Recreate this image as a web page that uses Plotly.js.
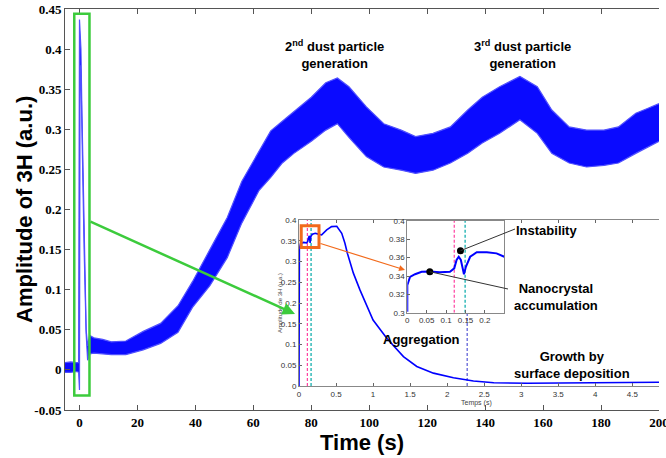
<!DOCTYPE html>
<html>
<head>
<meta charset="utf-8">
<script src="https://cdn.plot.ly/plotly-3.0.1.min.js"></script>
<style>html,body{margin:0;padding:0;background:#fff;}#chart{width:666px;height:458px;}</style>
</head>
<body>
<div id="chart"></div>
<script>
// ---- main signal: noisy band read as upper / lower envelope ----
const mainTime  = [-5, -3, -1, -0.3, 0, 0.2, 0.5, 0.8, 1.2, 1.6, 2.0, 2.3, 2.8, 3.5, 5, 8, 11, 16, 22, 28, 34, 39, 45, 51, 56, 62, 66, 70, 74, 80, 85, 89, 93, 99, 105, 111, 116, 122, 128, 134, 139, 145, 152, 158, 163, 169, 175, 181, 186, 192, 196, 200];
const mainUpper = [0.009, 0.010, 0.009, 0.009, 0.437, 0.42, 0.40, 0.33, 0.25, 0.16, 0.10, 0.05, 0.03, 0.043, 0.040, 0.038, 0.035, 0.036, 0.048, 0.058, 0.080, 0.110, 0.150, 0.190, 0.235, 0.272, 0.298, 0.310, 0.322, 0.340, 0.358, 0.364, 0.353, 0.328, 0.307, 0.299, 0.291, 0.295, 0.303, 0.324, 0.340, 0.353, 0.366, 0.353, 0.324, 0.303, 0.299, 0.299, 0.303, 0.320, 0.326, 0.332];
const mainLower = [-0.003, -0.003, -0.002, -0.003, -0.025, 0.38, 0.37, 0.30, 0.24, 0.15, 0.09, 0.045, 0.012, 0.020, 0.021, 0.020, 0.019, 0.019, 0.025, 0.033, 0.047, 0.078, 0.105, 0.140, 0.183, 0.224, 0.240, 0.258, 0.270, 0.285, 0.299, 0.307, 0.290, 0.266, 0.253, 0.249, 0.245, 0.249, 0.258, 0.270, 0.283, 0.295, 0.312, 0.295, 0.270, 0.258, 0.253, 0.255, 0.258, 0.270, 0.278, 0.285];
const mainXTicks = [0, 20, 40, 60, 80, 100, 120, 140, 160, 180, 200];
const mainXText  = ['0', '20', '40', '60', '80', '100', '120', '140', '160', '180', '200'];
const mainYTicks = [-0.05, 0, 0.05, 0.1, 0.15, 0.2, 0.25, 0.3, 0.35, 0.4, 0.45];
const mainYText  = ['-0.05', '0', '0.05', '0.1', '0.15', '0.2', '0.25', '0.3', '0.35', '0.4', '0.45'];
const mainRightTicks = [0.2, 0.25, 0.3, 0.35, 0.4, 0.45];

// ---- inset: first 5 s ----
const insetTime = [0, 0.005, 0.02, 0.06, 0.1, 0.117, 0.13, 0.14, 0.15, 0.16, 0.18, 0.22, 0.26, 0.306, 0.374, 0.44, 0.51, 0.577, 0.62, 0.653, 0.734, 0.824, 1.0, 1.185, 1.41, 1.59, 1.815, 2.085, 2.355, 2.63, 3.08, 3.5, 4.0, 4.5, 4.86];
const insetAmp  = [0.0, 0.33, 0.343, 0.346, 0.345, 0.348, 0.358, 0.362, 0.345, 0.36, 0.366, 0.368, 0.366, 0.364, 0.376, 0.384, 0.385, 0.368, 0.344, 0.32, 0.272, 0.231, 0.159, 0.115, 0.071, 0.047, 0.031, 0.02, 0.012, 0.008, 0.0065, 0.007, 0.008, 0.0085, 0.009];
const insetXTicks = [0, 0.5, 1, 1.5, 2, 2.5, 3, 3.5, 4, 4.5];
const insetXText  = ['0', '0.5', '1', '1.5', '2', '2.5', '3', '3.5', '4', '4.5'];
const insetYTicks = [0, 0.05, 0.1, 0.15, 0.2, 0.25, 0.3, 0.35, 0.4];
const insetYText  = ['0', '0.05', '0.1', '0.15', '0.2', '0.25', '0.3', '0.35', '0.4'];
const insetPinkT = 0.113, insetTealT = 0.163, insetBlueT = 2.27, insetBlueTop = 0.19;

// ---- zoomed inset: first 0.25 s ----
const zoomTime = [0, 0, 0.007, 0.02, 0.037, 0.058, 0.084, 0.11, 0.121, 0.127, 0.1325, 0.138, 0.143, 0.146, 0.151, 0.162, 0.179, 0.205, 0.23, 0.25];
const zoomAmp  = [0.301, 0.330, 0.339, 0.342, 0.3447, 0.345, 0.344, 0.3447, 0.3484, 0.3575, 0.361, 0.3575, 0.348, 0.342, 0.350, 0.361, 0.3659, 0.3659, 0.3647, 0.361];
const zoomXTicks = [0, 0.05, 0.1, 0.15, 0.2];
const zoomXText  = ['0', '0.05', '0.1', '0.15', '0.2'];
const zoomYTicks = [0.3, 0.32, 0.34, 0.36, 0.38, 0.4];
const zoomYText  = ['0.3', '0.32', '0.34', '0.36', '0.38', '0.4'];
const zoomPinkT = 0.121, zoomTealT = 0.149;
const dotTime  = [0.058, 0.137];
const dotAmp   = [0.3447, 0.3676];

const BLUE = '#0000FF';
const PINK = '#FF3FA0', TEAL = '#00A8A8';
const serifBold = {family: 'Liberation Serif, Times New Roman, serif', size: 13, weight: 'bold', color: '#000'};
const smallSans = {family: 'Liberation Sans, Arial, sans-serif', size: 8, color: '#333'};
const boldSans = {family: 'Liberation Sans, Arial, sans-serif', size: 13, weight: 'bold', color: '#000'};

// ---- geometry (pixel boxes of the panels) ----
const W = 666, H = 458, L = 65, R = 7, T = 9, B = 48;
const pw = W - L - R, ph = H - T - B;
const px = v => (v - L) / pw;          // pixel x -> paper
const py = v => (H - B - v) / ph;      // pixel y -> paper
const Z = {x0: 407.3, x1: 504.3, y0: 312.7, y1: 221, xr: [0, 0.25], yr: [0.3, 0.4]};
const zPixX = t => Z.x0 + (t - Z.xr[0]) / (Z.xr[1] - Z.xr[0]) * (Z.x1 - Z.x0);
const zPixY = v => Z.y0 + (v - Z.yr[0]) / (Z.yr[1] - Z.yr[0]) * (Z.y1 - Z.y0);

const traces = [
  {x: mainTime, y: mainLower, xaxis: 'x', yaxis: 'y', mode: 'lines', line: {color: 'rgb(80,80,255)', width: 1.2}},
  {x: mainTime, y: mainUpper, xaxis: 'x', yaxis: 'y', mode: 'lines', fill: 'tonexty', fillcolor: 'rgb(10,10,255)', line: {color: 'rgb(80,80,255)', width: 1.2}},
  {x: [insetPinkT, insetPinkT], y: [0, 0.4], xaxis: 'x2', yaxis: 'y2', mode: 'lines', line: {color: PINK, width: 1.2, dash: '3px,2px'}},
  {x: [insetTealT, insetTealT], y: [0, 0.4], xaxis: 'x2', yaxis: 'y2', mode: 'lines', line: {color: TEAL, width: 1.2, dash: '3px,2px'}},
  {x: [insetBlueT, insetBlueT], y: [0, insetBlueTop], xaxis: 'x2', yaxis: 'y2', mode: 'lines', line: {color: '#3333CC', width: 1, dash: '3px,2px'}},
  {x: insetTime, y: insetAmp, xaxis: 'x2', yaxis: 'y2', mode: 'lines', line: {color: BLUE, width: 1.6}},
  {x: [zoomPinkT, zoomPinkT], y: [0.3, 0.4], xaxis: 'x3', yaxis: 'y3', mode: 'lines', line: {color: PINK, width: 1.2, dash: '3px,2px'}},
  {x: [zoomTealT, zoomTealT], y: [0.3, 0.4], xaxis: 'x3', yaxis: 'y3', mode: 'lines', line: {color: TEAL, width: 1.2, dash: '3px,2px'}},
  {x: zoomTime, y: zoomAmp, xaxis: 'x3', yaxis: 'y3', mode: 'lines', line: {color: BLUE, width: 2}},
  {x: dotTime, y: dotAmp, xaxis: 'x3', yaxis: 'y3', mode: 'markers', marker: {color: '#000', size: 7}}
];

const c = {xanchor: 'center', yanchor: 'middle', showarrow: false};
const layout = {
  width: W, height: H,
  margin: {l: L, r: R, t: T, b: B, pad: 0},
  paper_bgcolor: '#fff', plot_bgcolor: '#fff',
  showlegend: false, hovermode: false,
  xaxis: {domain: [0, 1], range: [-5, 200], anchor: 'y', tickvals: mainXTicks, ticktext: mainXText,
    ticks: 'inside', ticklen: 5, tickcolor: '#555', showline: true, linecolor: '#555', linewidth: 1, mirror: 'ticks',
    showgrid: false, zeroline: false, tickfont: serifBold, ticklabeloverflow: 'allow',
    title: {text: 'Time (s)', font: {family: 'Liberation Sans, Arial, sans-serif', size: 22, weight: 'bold', color: '#000'}, standoff: 4}},
  yaxis: {domain: [0, 1], range: [-0.05, 0.45], anchor: 'x', tickvals: mainYTicks, ticktext: mainYText,
    ticks: 'inside', ticklen: 5, tickcolor: '#555', showline: true, linecolor: '#555', linewidth: 1,
    showgrid: false, zeroline: false, tickfont: serifBold},
  yaxis4: {overlaying: 'y', side: 'right', anchor: 'x', range: [-0.05, 0.45], tickvals: mainRightTicks,
    showticklabels: false, ticks: 'inside', ticklen: 5, tickcolor: '#555', showline: true, linecolor: '#666', linewidth: 1.5,
    showgrid: false, zeroline: false},
  xaxis2: {domain: [px(299), 1], range: [0, 4.86], anchor: 'y2', tickvals: insetXTicks, ticktext: insetXText,
    ticks: 'inside', ticklen: 3, tickcolor: '#666', showline: true, linecolor: '#888', mirror: 'ticks',
    showgrid: false, zeroline: false, tickfont: smallSans},
  yaxis2: {domain: [py(386), py(220)], range: [0, 0.4], anchor: 'x2', tickvals: insetYTicks, ticktext: insetYText,
    ticks: 'inside', ticklen: 3, tickcolor: '#666', showline: true, linecolor: '#888',
    showgrid: false, zeroline: false, tickfont: smallSans},
  xaxis3: {domain: [px(Z.x0), px(Z.x1)], range: Z.xr, anchor: 'y3', tickvals: zoomXTicks, ticktext: zoomXText,
    ticks: 'inside', ticklen: 3, tickcolor: '#666', showline: true, linecolor: '#888', mirror: true,
    showgrid: false, zeroline: false, tickfont: smallSans},
  yaxis3: {domain: [py(Z.y0), py(Z.y1)], range: Z.yr, anchor: 'x3', tickvals: zoomYTicks, ticktext: zoomYText,
    ticks: 'inside', ticklen: 3, tickcolor: '#666', showline: true, linecolor: '#888', mirror: true,
    showgrid: false, zeroline: false, tickfont: smallSans},
  shapes: [
    {type: 'rect', xref: 'x', yref: 'y', x0: -1.8, x1: 3.45, y0: -0.032, y1: 0.444, line: {color: '#3CCB3C', width: 2.5}},
    {type: 'rect', xref: 'x2', yref: 'y2', x0: 0.03, x1: 0.27, y0: 0.334, y1: 0.386, line: {color: '#F26A1B', width: 3}},
    // connector lines from the two dots to their labels
    {type: 'line', xref: 'paper', yref: 'paper', x0: px(zPixX(dotTime[0])), y0: py(zPixY(dotAmp[0])), x1: px(508), y1: py(289), line: {color: '#333', width: 1}},
    {type: 'line', xref: 'paper', yref: 'paper', x0: px(zPixX(dotTime[1])), y0: py(zPixY(dotAmp[1])), x1: px(515), y1: py(229), line: {color: '#333', width: 1}}
  ],
  annotations: [
    Object.assign({xref: 'paper', yref: 'paper', x: px(24), y: py(210), text: 'Amplitude of 3H (a.u.)', textangle: -90,
      font: {family: 'Liberation Sans, Arial, sans-serif', size: 22, weight: 'bold', color: '#000'}}, c),
    Object.assign({xref: 'x2', yref: 'paper', x: 2.4, y: py(402.5), text: 'Temps (s)',
      font: {family: 'Liberation Sans, Arial, sans-serif', size: 7, color: '#444'}}, c),
    Object.assign({xref: 'paper', yref: 'y2', x: px(280), y: 0.2, text: 'Amplitude de 3H (u.a.)', textangle: -90,
      font: {family: 'Liberation Sans, Arial, sans-serif', size: 6, color: '#444'}}, c),
    Object.assign({xref: 'x', yref: 'y', x: 88, y: 0.393, text: '2<sup>nd</sup> dust particle<br>generation', font: boldSans}, c),
    Object.assign({xref: 'x', yref: 'y', x: 153, y: 0.393, text: '3<sup>rd</sup> dust particle<br>generation', font: boldSans}, c),
    Object.assign({xref: 'x2', yref: 'y2', x: 1.65, y: 0.113, text: 'Aggregation', font: boldSans}, c),
    Object.assign({xref: 'x2', yref: 'y2', x: 3.68, y: 0.05, text: 'Growth by<br>surface deposition', font: boldSans}, c),
    Object.assign({xref: 'paper', yref: 'paper', x: px(546), y: py(231), text: 'Instability', font: boldSans}, c),
    Object.assign({xref: 'paper', yref: 'paper', x: px(556), y: py(297), text: 'Nanocrystal<br>accumulation', font: boldSans}, c),
    // orange zoom arrow
    {xref: 'paper', yref: 'paper', x: px(405), y: py(270), ax: -86, ay: -27, text: '', showarrow: true, arrowhead: 2, arrowsize: 1, arrowwidth: 1.2, arrowcolor: '#F26A1B'},
    // green zoom arrow
    {xref: 'paper', yref: 'paper', x: px(295), y: py(314), ax: -206, ay: -93, text: '', showarrow: true, arrowhead: 2, arrowsize: 1, arrowwidth: 2.5, arrowcolor: '#3CCB3C'}
  ]
};

Plotly.newPlot('chart', traces, layout, {staticPlot: true, displayModeBar: false});
</script>
</body>
</html>
